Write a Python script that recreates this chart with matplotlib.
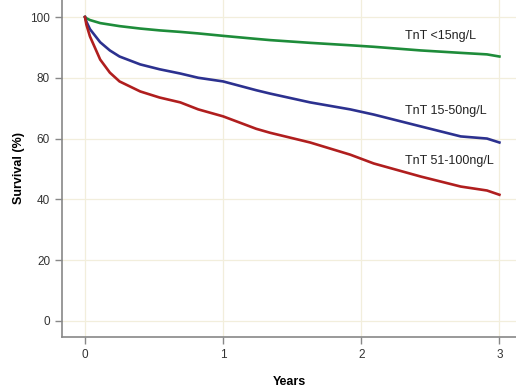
import numpy as np
import matplotlib.pyplot as plt

plt.rcParams['font.family'] = ['Liberation Sans', 'DejaVu Sans']

# Kaplan-Meier survival
years = [0, 0.01, 0.036, 0.11, 0.18, 0.25, 0.4, 0.54, 0.69, 0.82, 1.0, 1.24, 1.34, 1.63, 1.92, 2.09, 2.43, 2.72, 2.91, 3.0]
surv_low = [100, 99.6, 99.0, 98.0, 97.5, 97.0, 96.2, 95.6, 95.1, 94.6, 93.8, 92.8, 92.4, 91.5, 90.7, 90.2, 89.0, 88.2, 87.7, 87.0]
surv_mid = [100, 98.5, 96.0, 91.7, 89.0, 87.0, 84.4, 82.8, 81.4, 80.0, 78.8, 75.9, 74.8, 71.9, 69.6, 67.9, 64.0, 60.7, 60.0, 58.7]
surv_high = [100, 97.5, 93.6, 86.0, 81.7, 78.8, 75.5, 73.5, 71.9, 69.6, 67.3, 63.2, 61.9, 58.7, 54.7, 51.8, 47.5, 44.2, 42.9, 41.5]
labels = ['TnT <15ng/L', 'TnT 15-50ng/L', 'TnT 51-100ng/L']
label_y = [93.6, 69, 52.7]
colors = ['#1e8c3a', '#2c318f', '#b01e1e']

fig = plt.figure(figsize=(5.16, 3.9), dpi=100)
ax = fig.add_axes([0.120, 0.136, 0.880, 0.864])

for s, c in zip([surv_low, surv_mid, surv_high], colors):
    ax.plot(years, s, color=c, lw=1.9, solid_joinstyle='round')

for lab, ly in zip(labels, label_y):
    ax.text(2.32, ly, lab, fontsize=9, color='#222222', va='center', ha='left')

ax.set_xlim(-0.167, 3.12)
ax.set_ylim(-5.3, 105.6)
ax.set_xticks([0, 1, 2, 3])
ax.set_yticks([0, 20, 40, 60, 80, 100])
ax.grid(True, color='#f2eedc', lw=0.9)
ax.set_axisbelow(True)

for sp in ['top', 'right']:
    ax.spines[sp].set_visible(False)
for sp in ['left', 'bottom']:
    ax.spines[sp].set_color('#888888')
    ax.spines[sp].set_linewidth(1.2)
ax.tick_params(colors='#888888', length=5, width=1, labelsize=8.5, labelcolor='#333333')

ax.set_ylabel('Survival (%)', fontsize=9, fontweight='bold', labelpad=4)
ax.set_xlabel('Years', fontsize=9, fontweight='bold', labelpad=11)

fig.savefig('out.png', dpi=100)
